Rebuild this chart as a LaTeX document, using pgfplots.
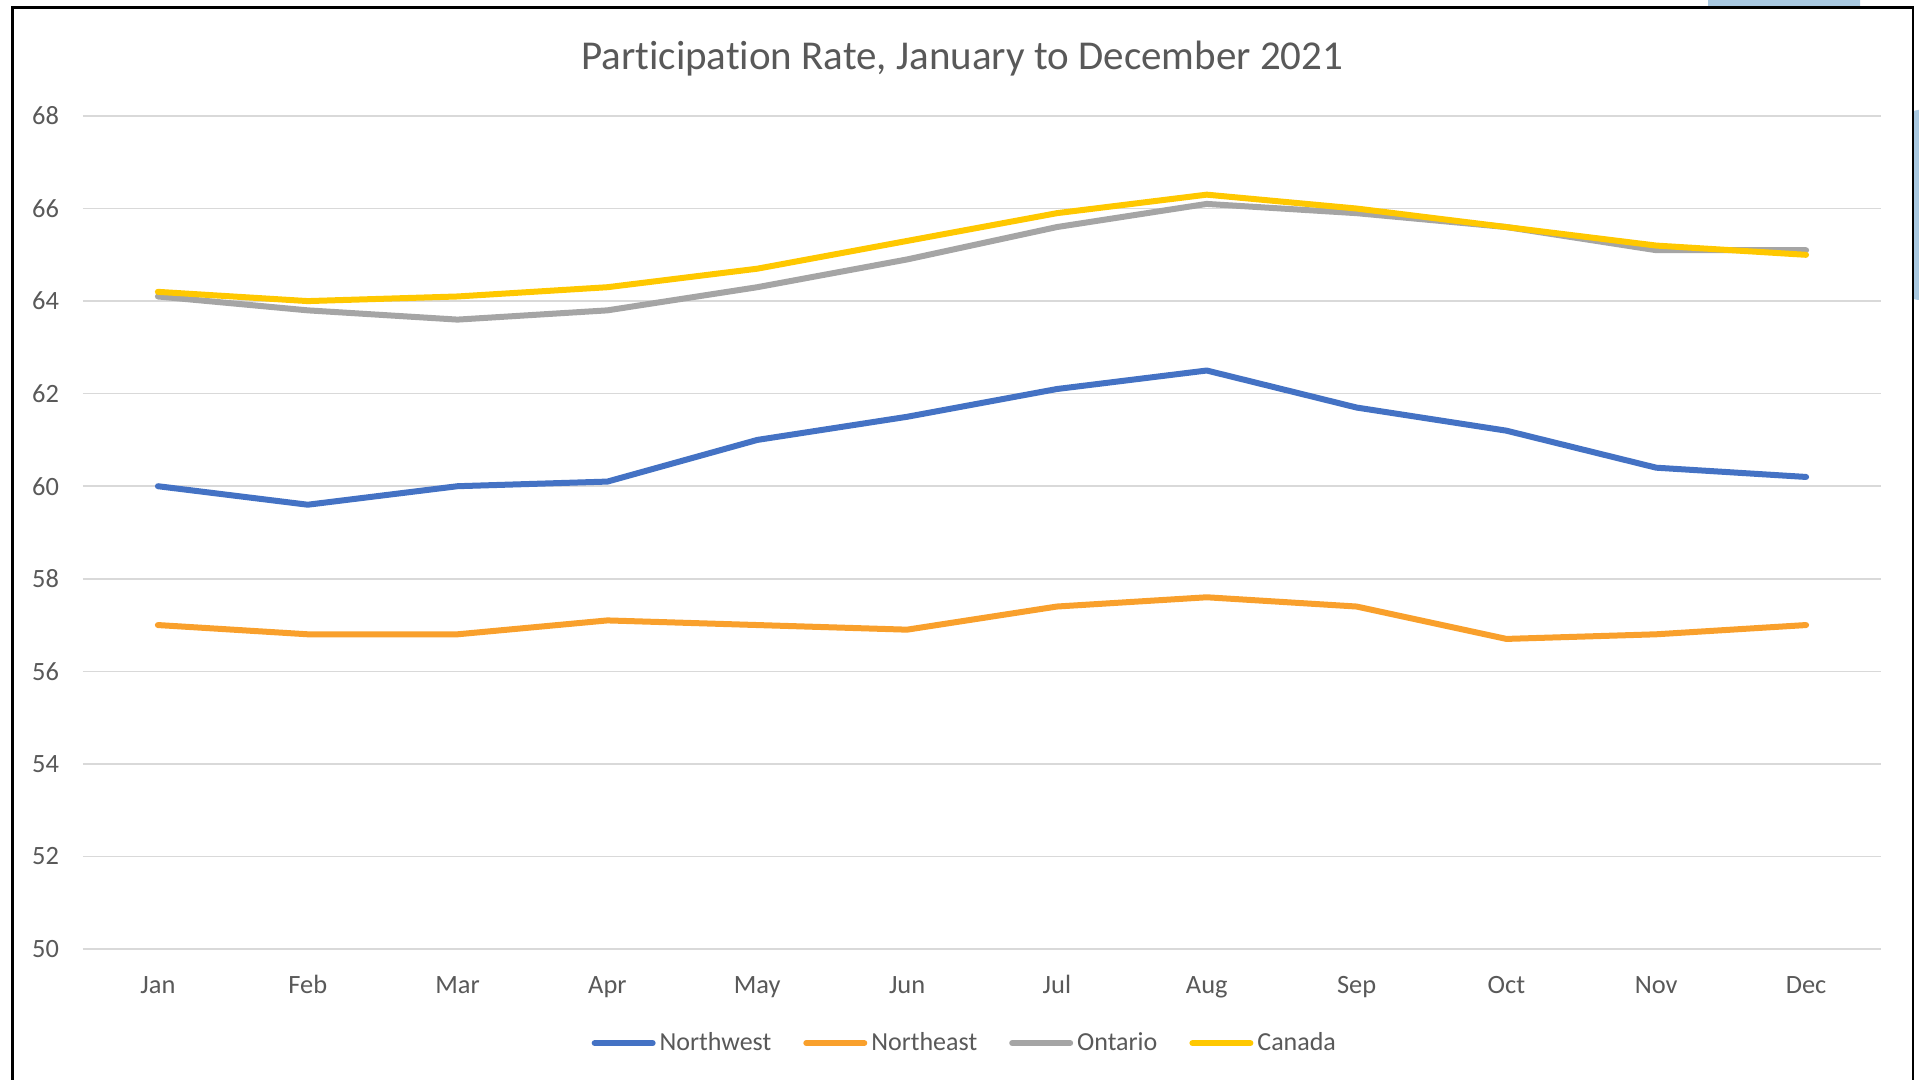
\documentclass[border=0pt]{standalone}
\usepackage{fontspec}
\setmainfont{Carlito}[Ligatures=NoCommon]
\usepackage{pgfplots}
\pgfplotsset{compat=1.18}
\definecolor{nwblue}{HTML}{4472C4}
\definecolor{neorange}{HTML}{F9A02C}
\definecolor{ongray}{HTML}{A5A5A5}
\definecolor{cayellow}{HTML}{FFC800}
\definecolor{txt}{HTML}{595959}
\definecolor{gridc}{HTML}{D9D9D9}
\definecolor{blob}{HTML}{A9C9E1}

\begin{document}
\begin{tikzpicture}
\useasboundingbox (0,0) rectangle (959.5pt,540pt);
% stray shapes of the screenshot
\fill[blob,rounded corners=6pt] (854pt,530pt) rectangle (930pt,548pt);
\fill[blob,rounded corners=4pt] (955pt,390pt) rectangle (966pt,485pt);
\fill[white] (6.25pt,-5pt) rectangle (956.5pt,536.25pt);
\draw[black,line width=1.1pt] (6.25pt,-5pt) -- (6.25pt,536.25pt) -- (956.5pt,536.25pt) -- (956.5pt,-5pt);
\begin{axis}[
  at={(41.5pt,65.5pt)},anchor=south west,
  scale only axis,width=899pt,height=416.5pt,
  xmin=-0.5,xmax=11.5,ymin=50,ymax=68,
  xtick={0,...,11},xticklabels={Jan,Feb,Mar,Apr,May,Jun,Jul,Aug,Sep,Oct,Nov,Dec},
  ytick={50,52,...,68},
  axis line style={draw=none},
  major tick length=0pt,
  ymajorgrids,grid style={gridc,line width=0.75pt},
  /pgf/number format/assume math mode=true,
  tick label style={font=\fontsize{13.2pt}{15pt}\selectfont,text=txt},
  yticklabel style={xshift=-8.5pt},
  xticklabel style={yshift=-9.5pt,text height=9pt,text depth=3pt},
  title={Participation Rate, January to December 2021},
  title style={at={(axis description cs:0.489,1.055)},anchor=center,font=\fontsize{20.5pt}{24pt}\selectfont,text=txt},
  legend columns=4,
  legend style={at={(axis description cs:0.491,-0.113)},anchor=center,draw=none,fill=none,
    font=\fontsize{13pt}{15pt}\selectfont,text=txt,
    /tikz/every even column/.append style={column sep=14pt}},
  legend image code/.code={\draw[#1,line width=3pt,line cap=round] (0pt,0pt) -- (29pt,0pt);},
  every axis plot/.append style={line width=3pt,line cap=round,line join=round},
]
\addplot[nwblue] coordinates {(0,60.0)(1,59.6)(2,60.0)(3,60.1)(4,61.0)(5,61.5)(6,62.1)(7,62.5)(8,61.7)(9,61.2)(10,60.4)(11,60.2)};
\addlegendentry{Northwest}
\addplot[neorange] coordinates {(0,57.0)(1,56.8)(2,56.8)(3,57.1)(4,57.0)(5,56.9)(6,57.4)(7,57.6)(8,57.4)(9,56.7)(10,56.8)(11,57.0)};
\addlegendentry{Northeast}
\addplot[ongray] coordinates {(0,64.1)(1,63.8)(2,63.6)(3,63.8)(4,64.3)(5,64.9)(6,65.6)(7,66.1)(8,65.9)(9,65.6)(10,65.1)(11,65.1)};
\addlegendentry{Ontario}
\addplot[cayellow] coordinates {(0,64.2)(1,64.0)(2,64.1)(3,64.3)(4,64.7)(5,65.3)(6,65.9)(7,66.3)(8,66.0)(9,65.6)(10,65.2)(11,65.0)};
\addlegendentry{Canada}
\end{axis}
\end{tikzpicture}
\end{document}
